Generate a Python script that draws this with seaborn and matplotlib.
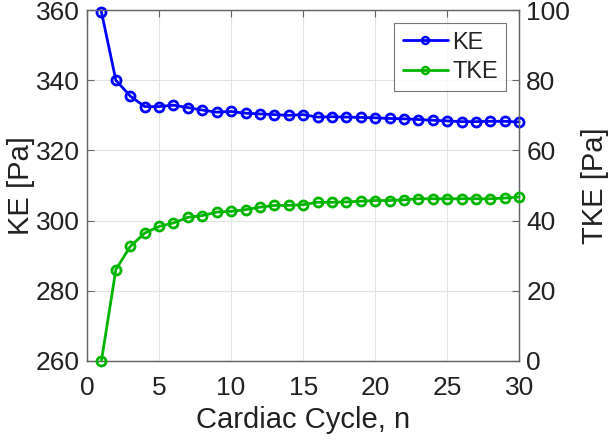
import numpy as np
import pandas as pd
import matplotlib
matplotlib.use("Agg")
import matplotlib.pyplot as plt
import seaborn as sns
from matplotlib.lines import Line2D

# data
cycle = list(range(1, 31))
ke = [359.5, 340.0, 335.5, 332.5, 332.5, 332.9, 332.2, 331.5, 330.9, 331.1,
      330.6, 330.4, 330.2, 330.0, 330.2, 329.5, 329.6, 329.5, 329.4, 329.3,
      329.1, 329.0, 328.8, 328.6, 328.4, 328.2, 328.2, 328.3, 328.3, 328.1]
tke = [0.0, 26.0, 32.6, 36.4, 38.3, 39.3, 40.9, 41.4, 42.4, 42.6,
       43.1, 43.8, 44.3, 44.3, 44.5, 45.2, 45.2, 45.3, 45.5, 45.7,
       45.7, 45.9, 46.2, 46.2, 46.2, 46.2, 46.2, 46.2, 46.4, 46.7]

df = pd.DataFrame({"n": cycle, "KE": ke, "TKE": tke})

sns.set_style("white")
plt.rcParams['font.family'] = ['Liberation Sans', 'DejaVu Sans']

blue = "#0000ff"
green = "#00b400"
spine_c = "#666666"

fig = plt.figure(figsize=(6.13, 4.41), dpi=100)
ax1 = fig.add_axes([0.142, 0.182, 0.705, 0.795])
ax2 = ax1.twinx()

sns.lineplot(data=df, x="n", y="KE", ax=ax1, color=blue, linewidth=2,
             marker="o", markersize=6.5, markerfacecolor="none",
             markeredgecolor=blue, markeredgewidth=2, clip_on=False, zorder=5)
sns.lineplot(data=df, x="n", y="TKE", ax=ax2, color=green, linewidth=2,
             marker="o", markersize=6.5, markerfacecolor="none",
             markeredgecolor=green, markeredgewidth=2, clip_on=False, zorder=5)

ax1.set_xlim(0, 30)
ax1.set_ylim(260, 360)
ax2.set_ylim(0, 100)
ax1.set_xticks(range(0, 31, 5))
ax1.set_yticks(range(260, 361, 20))
ax2.set_yticks(range(0, 101, 20))

ax1.grid(True, color="#e3e3e3", linewidth=0.8)
ax1.set_axisbelow(True)

for ax in (ax1, ax2):
    for s in ax.spines.values():
        s.set_color(spine_c)
        s.set_linewidth(0.9)
    ax.tick_params(direction="in", length=5, width=0.8, color=spine_c,
                   labelsize=19, labelcolor="#222222")
ax1.tick_params(axis="x", top=True, pad=11)
ax1.tick_params(axis="y", pad=5)
ax2.tick_params(axis="y", pad=5)

ax1.set_xlabel("Cardiac Cycle, n", fontsize=21, color="#222222", labelpad=4)
ax1.set_ylabel("KE [Pa]", fontsize=21, color="#222222", labelpad=1)
ax2.set_ylabel("TKE [Pa]", fontsize=21, color="#222222", labelpad=8)

handles = [
    Line2D([], [], color=blue, linewidth=2, marker="o", markersize=5,
           markerfacecolor="none", markeredgewidth=1.8),
    Line2D([], [], color=green, linewidth=2, marker="o", markersize=5,
           markerfacecolor="none", markeredgewidth=1.8),
]
leg = ax2.legend(handles, ["KE", "TKE"], loc="upper right",
                 bbox_to_anchor=(0.97, 0.962), fontsize=17, frameon=True,
                 fancybox=False, edgecolor="#555555", handlelength=1.9,
                 borderpad=0.35, labelspacing=0.3, handletextpad=0.2,
                 borderaxespad=0)
leg.get_frame().set_linewidth(0.8)

fig.savefig("out.png", dpi=100)
